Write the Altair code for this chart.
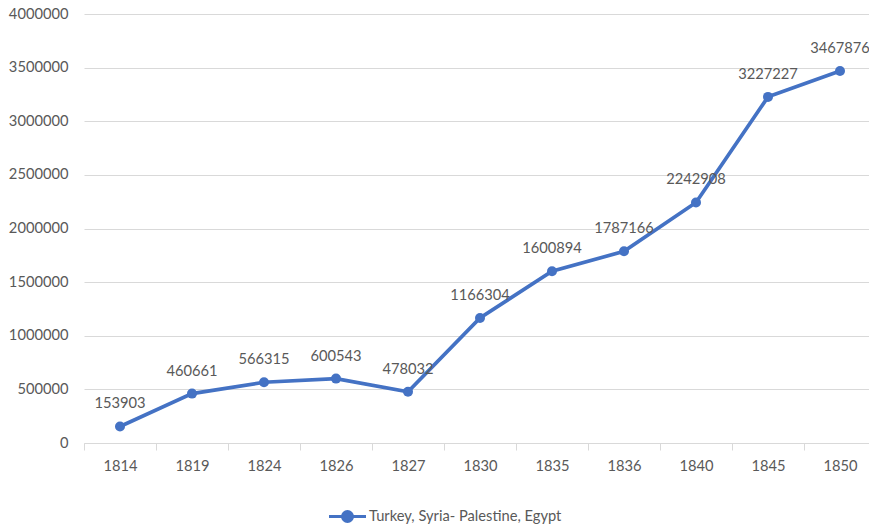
import altair as alt
import pandas as pd

years = ["1814", "1819", "1824", "1826", "1827", "1830", "1835", "1836", "1840", "1845", "1850"]
values = [153903, 460661, 566315, 600543, 478032, 1166304, 1600894, 1787166, 2242908, 3227227, 3467876]
series_name = "Turkey, Syria- Palestine, Egypt"

df = pd.DataFrame({"year": years, "value": values, "series": [series_name] * len(years)})

BLUE = "#4472C4"
GRAY = "#595959"
FONT = "Lato"

x = alt.X("year:N", sort=years, title=None,
          scale=alt.Scale(paddingInner=0, paddingOuter=0),
          axis=alt.Axis(labelAngle=0, tickBand="extent", tickSize=7, tickColor="#d9d9d9",
                        domainColor="#d9d9d9", labelPadding=8, grid=False))
y = alt.Y("value:Q", title=None,
          scale=alt.Scale(domain=[0, 4000000], nice=False),
          axis=alt.Axis(values=list(range(0, 4000001, 500000)), format="d", domain=False, ticks=False,
                        gridColor="#d9d9d9", labelPadding=16))

base = alt.Chart(df)

line = base.mark_line(color=BLUE, strokeWidth=3.7).encode(x=x, y=y)

legend_path = "M-1.85,0L1.85,0M0.5,0A0.5,0.5,0,1,1,-0.5,0A0.5,0.5,0,1,1,0.5,0Z"
points = base.mark_point(filled=True, size=100, opacity=1).encode(
    x=x, y=y,
    color=alt.Color("series:N", scale=alt.Scale(range=[BLUE]),
                    legend=alt.Legend(title=None, orient="none", legendX=252, legendY=491,
                                      symbolType=legend_path, symbolSize=400,
                                      symbolStrokeColor=BLUE, symbolStrokeWidth=3,
                                      symbolFillColor=BLUE, symbolOpacity=1,
                                      labelOffset=10, labelFontSize=14.7, labelFont=FONT,
                                      labelColor=GRAY, labelLimit=400))
)

labels = base.mark_text(dy=-22, fontSize=14.7, font=FONT, color=GRAY, baseline="middle").encode(
    x=x, y=y, text=alt.Text("value:Q", format="d")
)

chart = (line + points + labels).properties(
    width=792, height=429,
    autosize=alt.AutoSizeParams(type="none"),
    padding={"left": 76, "top": 6, "right": -7, "bottom": 82},
).configure_view(stroke=None).configure_axis(
    labelFont=FONT, labelFontSize=14.7, labelColor=GRAY
)

chart.save("out.html", embed_options={"renderer": "svg", "actions": False})
